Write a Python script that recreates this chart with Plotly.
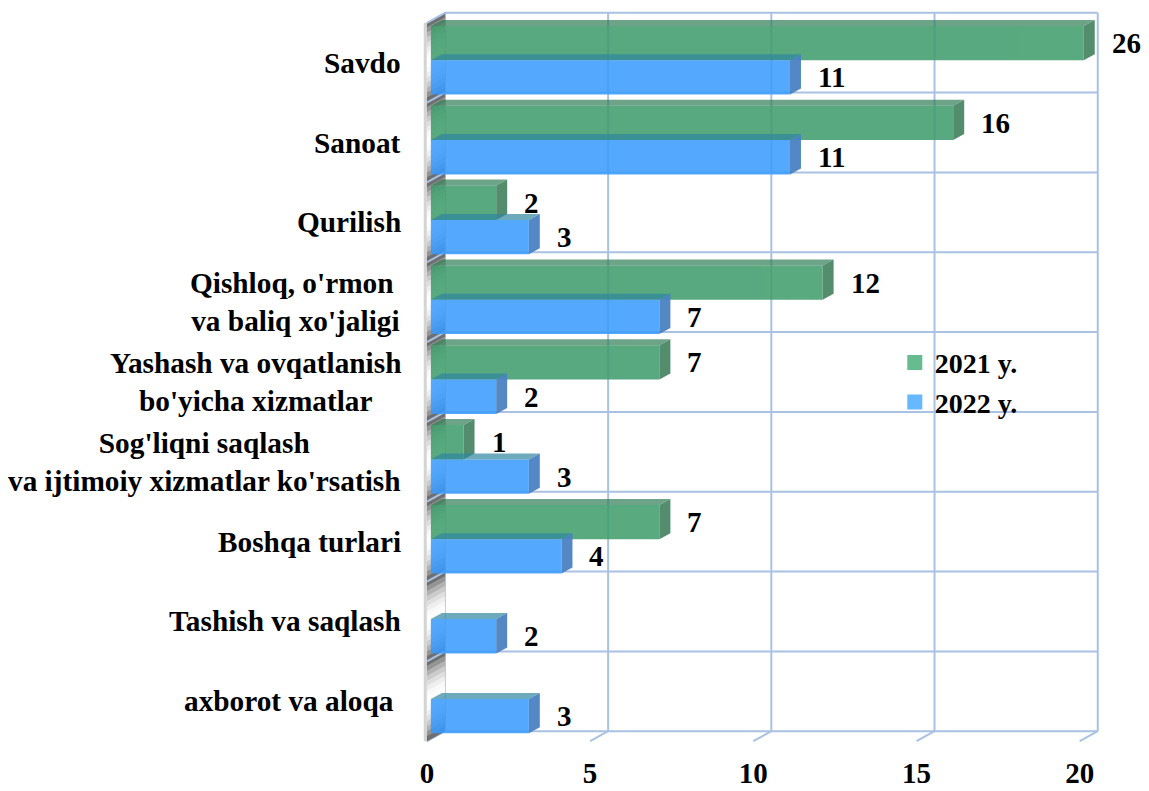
import math
import plotly.graph_objects as go

# ---------------- data ----------------
categories = [
    "Savdo",
    "Sanoat",
    "Qurilish",
    "Qishloq, o'rmon\u00a0<br>va baliq xo'jaligi",
    "Yashash va ovqatlanish<br>bo'yicha xizmatlar",
    "Sog'liqni saqlash<br>va ijtimoiy xizmatlar ko'rsatish",
    "Boshqa turlari",
    "Tashish va saqlash",
    "axborot va aloqa\u00a0",
]
series_names = ["2021 y.", "2022 y."]
values_2021 = [26, 16, 2, 12, 7, 1, 7, 0, 0]
values_2022 = [11, 11, 3, 7, 2, 3, 4, 2, 3]
x_ticks = [0, 5, 10, 15, 20]

# ---------------- layout constants ----------------
PAGE_OFF = 8                      # default body margin of the html page
W, H = 1149 - PAGE_OFF, 791 - PAGE_OFF
FONT = "Liberation Serif"
X_MAX = 20
PX_X = 32.65          # pixels per x unit
PX_Y = 79.8           # pixels per category band
X0_PX = 427 - PAGE_OFF
YTOP_PX = 23 - PAGE_OFF
X_LO, X_HI = -0.15, 20.62
Y_LO, Y_HI = -0.66, 8.56
WALL_DX, WALL_DY = 18 / PX_X, 10 / PX_Y
BAR_DX, BAR_DY = 11 / PX_X, 6 / PX_Y
BAR_SHIFT = 4 / PX_X               # bars sit a little inside the depth
BAR_W = 0.43
OFFSETS = [-0.46, -0.03]
FILL = ["#3d9b6a", "#379bff"]
LEG = ["#66bb8f", "#66b8ff"]
SIDE = ["#4b8766", "#4a82c2"]
TOP = ["#2f7e55", "#2f86a0"]
GRID = "#a9c2e3"

ml = X0_PX + X_LO * PX_X
pw = (X_HI - X_LO) * PX_X
mr = W - ml - pw
mt = YTOP_PX - (-0.5 - Y_LO) * PX_Y
ph = (Y_HI - Y_LO) * PX_Y
mb = H - mt - ph

n = len(categories)
idx = list(range(n))
series = [values_2021, values_2022]

fig = go.Figure()
for s, vals in enumerate(series):
    fig.add_trace(go.Bar(
        orientation="h",
        y=idx,
        x=[min(v, X_MAX) for v in vals],
        width=BAR_W,
        offset=OFFSETS[s],
        name=series_names[s],
        marker=dict(color=FILL[s], line=dict(width=0)),
        opacity=0.85,
        hoverinfo="skip",
        showlegend=False,
        xaxis="x2",
    ))
for s in range(2):
    fig.add_trace(go.Scatter(
        x=[None], y=[None], mode="markers", name=series_names[s],
        marker=dict(symbol="square", size=15, color=LEG[s]),
    ))

shapes = []
# back wall grid
for k in range(n + 1):
    yb = k - 0.5 - WALL_DY
    shapes.append(dict(type="line", xref="x", yref="y", x0=WALL_DX, x1=X_MAX + WALL_DX,
                       y0=yb, y1=yb, line=dict(color=GRID, width=2), layer="below"))
for t in x_ticks:
    shapes.append(dict(type="line", xref="x", yref="y", x0=t + WALL_DX, x1=t + WALL_DX,
                       y0=-0.5 - WALL_DY, y1=n - 0.5 - WALL_DY,
                       line=dict(color=GRID, width=2), layer="below"))
    shapes.append(dict(type="line", xref="x", yref="y", x0=t, x1=t + WALL_DX,
                       y0=n - 0.5, y1=n - 0.5 - WALL_DY,
                       line=dict(color=GRID, width=2), layer="below"))
# left wall with shading
NS = 16
for k in range(n):
    for j in range(NS):
        t0, t1 = j / NS, (j + 1) / NS
        y0, y1 = k - 0.5 + t0, k - 0.5 + t1
        g = int(85 + 170 * math.sin(math.pi * (t0 + t1) / 2) ** 0.8)
        col = f"rgb({g},{g},{g})"
        shapes.append(dict(type="path", xref="x", yref="y",
                           path=f"M 0,{y0} L {WALL_DX},{y0 - WALL_DY} L {WALL_DX},{y1 - WALL_DY} L 0,{y1} Z",
                           fillcolor=col, line=dict(width=0.5, color=col), layer="below"))
    shapes.append(dict(type="line", xref="x", yref="y", x0=0, x1=WALL_DX,
                       y0=k - 0.5, y1=k - 0.5 - WALL_DY, line=dict(color=GRID, width=2), layer="below"))
shapes.append(dict(type="line", xref="x", yref="y", x0=-0.05, x1=-0.05, y0=-0.5, y1=n - 0.5,
                   line=dict(color="#d4d4d4", width=3), layer="below"))

# 3D faces of bars
for s, vals in enumerate(series):
    for i, v in enumerate(vals):
        if v <= 0:
            continue
        e = min(v, X_MAX)
        yt = i + OFFSETS[s]
        yb = yt + BAR_W
        shapes.append(dict(type="path", xref="x2", yref="y",
                           path=f"M 0,{yt} L {BAR_DX},{yt - BAR_DY} L {e + BAR_DX},{yt - BAR_DY} L {e},{yt} Z",
                           fillcolor=TOP[s], opacity=0.7, line=dict(width=0), layer="above"))
        shapes.append(dict(type="path", xref="x2", yref="y",
                           path=f"M {e},{yt} L {e + BAR_DX},{yt - BAR_DY} L {e + BAR_DX},{yb - BAR_DY} L {e},{yb} Z",
                           fillcolor=SIDE[s], opacity=0.95, line=dict(width=0), layer="above"))

annotations = []
label_font = dict(family=FONT, size=29, color="black", weight="bold")
for s, vals in enumerate(series):
    for i, v in enumerate(vals):
        if v <= 0:
            continue
        annotations.append(dict(xref="x2", yref="y", x=min(v, X_MAX), y=i + OFFSETS[s] + BAR_W / 2,
                                text=str(v), showarrow=False, xanchor="left", yanchor="middle",
                                xshift=26, font=label_font))
for i, c in enumerate(categories):
    annotations.append(dict(xref="x", yref="y", x=0, y=i, text=c, showarrow=False,
                            xanchor="right", yanchor="middle", align="center", xshift=-24,
                            font=dict(family=FONT, size=29.3, color="black", weight="bold")))

LEG_LEFT = 895 - PAGE_OFF
LEG_TOP = 338 - PAGE_OFF
fig.update_layout(
    width=W, height=H,
    margin=dict(l=ml, r=mr, t=mt, b=mb, autoexpand=False),
    paper_bgcolor="white", plot_bgcolor="white",
    barmode="overlay",
    shapes=shapes,
    annotations=annotations,
    showlegend=True,
    legend=dict(x=(LEG_LEFT - ml) / pw, y=1 - (LEG_TOP - mt) / ph, xanchor="left", yanchor="top",
                bgcolor="rgba(0,0,0,0)", font=dict(family=FONT, size=28, color="black", weight="bold"),
                tracegroupgap=0),
    xaxis=dict(range=[X_LO, X_HI], tickvals=x_ticks, showgrid=False, zeroline=False, showline=False,
               ticks="outside", ticklen=1, tickcolor="rgba(0,0,0,0)",
               tickfont=dict(family=FONT, size=29, color="black", weight="bold")),
    xaxis2=dict(range=[X_LO - BAR_SHIFT, X_HI - BAR_SHIFT], overlaying="x", visible=False),
    yaxis=dict(range=[Y_HI, Y_LO], showgrid=False, zeroline=False, showline=False,
               showticklabels=False, ticks=""),
)

fig.write_html("out.html")
